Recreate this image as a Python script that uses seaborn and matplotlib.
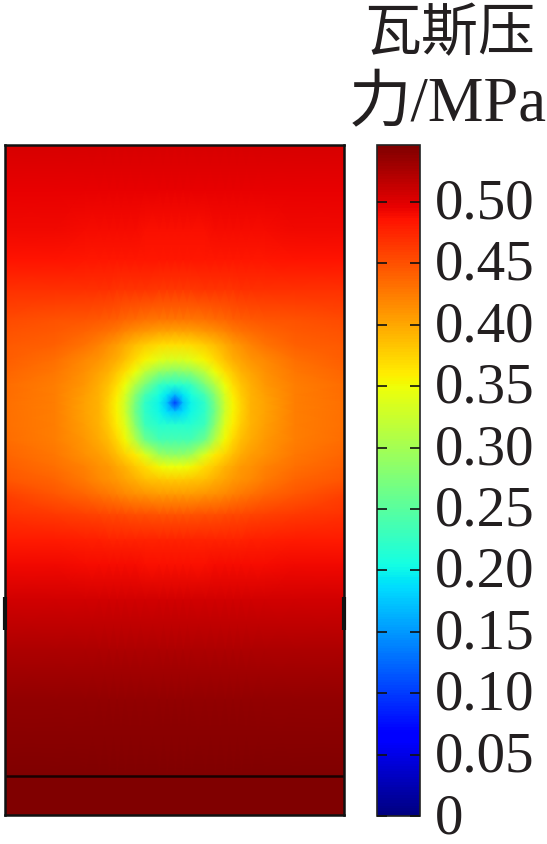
import numpy as np
import seaborn as sns
import matplotlib.pyplot as plt
from matplotlib.transforms import ScaledTranslation

# stations of the readings: offset from the well axis and depth in the section
offsets = [0, 8, 16, 30, 40, 50, 58, 66, 76, 90, 120, 170]
depths = [145, 190, 230, 260, 290, 320, 332, 345, 360, 372, 385, 395, 403, 412, 425,
          440, 455, 467, 480, 495, 515, 540, 565, 600, 650, 700, 775, 815]

pressure = [
    [.504, .504, .504, .504, .504, .504, .504, .504, .504, .504, .504, .504],
    [.496, .496, .496, .496, .496, .496, .496, .496, .496, .496, .496, .496],
    [.488, .488, .488, .488, .489, .489, .489, .490, .490, .490, .491, .492],
    [.483, .483, .483, .483, .483, .484, .484, .484, .484, .484, .485, .485],
    [.465, .465, .465, .466, .466, .467, .467, .468, .468, .468, .469, .469],
    [.428, .428, .429, .431, .434, .437, .440, .443, .445, .447, .450, .453],
    [.401, .402, .403, .408, .413, .420, .425, .430, .434, .438, .445, .450],
    [.368, .369, .371, .379, .387, .397, .406, .413, .421, .430, .441, .446],
    [.333, .335, .341, .355, .371, .385, .395, .403, .410, .418, .433, .443],
    [.277, .282, .287, .318, .348, .368, .381, .393, .403, .413, .428, .438],
    [.217, .219, .227, .272, .308, .350, .368, .383, .396, .408, .423, .435],
    [.166, .192, .207, .237, .282, .335, .360, .378, .393, .405, .423, .434],
    [.100, .171, .199, .222, .272, .328, .355, .375, .393, .403, .423, .433],
    [.176, .187, .202, .222, .267, .328, .355, .375, .393, .403, .423, .433],
    [.217, .217, .217, .232, .282, .338, .360, .378, .393, .405, .423, .433],
    [.237, .237, .239, .264, .313, .353, .373, .388, .398, .408, .423, .435],
    [.287, .290, .297, .338, .361, .375, .388, .398, .406, .413, .428, .439],
    [.348, .349, .353, .370, .381, .393, .400, .408, .413, .421, .433, .443],
    [.381, .381, .383, .388, .395, .403, .408, .413, .418, .425, .438, .448],
    [.408, .408, .409, .412, .416, .420, .424, .428, .433, .438, .448, .459],
    [.449, .449, .450, .451, .452, .454, .455, .456, .458, .460, .464, .469],
    [.476, .476, .476, .477, .477, .477, .478, .478, .479, .480, .481, .482],
    [.488, .488, .488, .488, .489, .489, .489, .490, .490, .490, .491, .491],
    [.507, .507, .507, .507, .507, .507, .507, .507, .507, .507, .507, .507],
    [.525, .525, .525, .525, .525, .525, .525, .525, .525, .525, .525, .525],
    [.537, .537, .537, .537, .537, .537, .537, .537, .537, .537, .537, .537],
    [.5464, .5464, .5464, .5464, .5464, .5464, .5464, .5464, .5464, .5464, .5464, .5464],
    [.5464, .5464, .5464, .5464, .5464, .5464, .5464, .5464, .5464, .5464, .5464, .5464],
]

bar_ticks = [0, 0.05, 0.10, 0.15, 0.20, 0.25, 0.30, 0.35, 0.40, 0.45, 0.50]
bar_labels = ['', '0.05', '0.10', '0.15', '0.20', '0.25', '0.30', '0.35', '0.40', '0.45', '0.50']
zero_label = '0'
title_lines = ['瓦斯压', '力/MPa']
p_max = 0.5464

sns.set_style('white')
plt.rcParams['font.family'] = ['Liberation Serif', 'Noto Sans CJK SC']

W, H = 547, 844
fig = plt.figure(figsize=(W / 100, H / 100), dpi=100)
ax = fig.add_axes([5 / W, 1 - 815 / H, 339 / W, 670 / H])
cax = fig.add_axes([377 / W, 1 - 816 / H, 43 / W, 671 / H])

# section is symmetric about the well, so the half is mirrored
half = np.array(pressure)
field = np.hstack([half[:, :0:-1], half])
xs = 175 + np.concatenate([-np.array(offsets[:0:-1]), np.array(offsets)])
ys = np.array(depths)

# heatmap gives the colour bar, the smooth mesh sits on the uneven stations
sns.heatmap(field, ax=ax, cbar_ax=cax, cmap='jet', vmin=0, vmax=p_max,
            xticklabels=False, yticklabels=False)
ax.collections[0].set_visible(False)
ax.pcolormesh(xs, ys, field, shading='gouraud', cmap='jet', vmin=0, vmax=p_max)
ax.set_xlim(5, 344)
ax.set_ylim(815, 145)

for s in ax.spines.values():
    s.set_visible(True)
    s.set_color('#111111')
    s.set_linewidth(1.8)
ax.axhline(776, color='#1a0000', lw=1.8)
ax.vlines([5, 344], 597, 630, color='#111111', lw=3, clip_on=False)

cax.set_axisbelow(False)  # style puts ticks under the colours otherwise
cax.set_yticks(bar_ticks)
cax.set_yticklabels(bar_labels)
cax.tick_params(axis='y', direction='in', left=True, right=True, length=7,
                width=1.2, color='#111111', labelsize=41, pad=11,
                labelcolor='#231f20')
# labels sit a little high against their ticks in the original
lift = ScaledTranslation(0, 3.5 / 100, fig.dpi_scale_trans)
for lab in cax.get_yticklabels():
    lab.set_transform(lab.get_transform() + lift)
cbar = ax.collections[0].colorbar
cbar.outline.set_visible(True)
cbar.outline.set_edgecolor('#222222')
cbar.outline.set_linewidth(1.2)

# own text so the whole box of the label stays inside the figure
fig.text(435 / W, 1 - 813 / H, zero_label, ha='left', va='center_baseline',
         fontsize=41, color='#231f20')

fig.text(450 / W, 1 - 50 / H, title_lines[0], ha='center', va='baseline',
         fontsize=41, color='#231f20')
fig.text(448 / W, 1 - 121 / H, title_lines[1], ha='center', va='baseline',
         fontsize=45, color='#231f20')

fig.savefig('out.png', dpi=100)
